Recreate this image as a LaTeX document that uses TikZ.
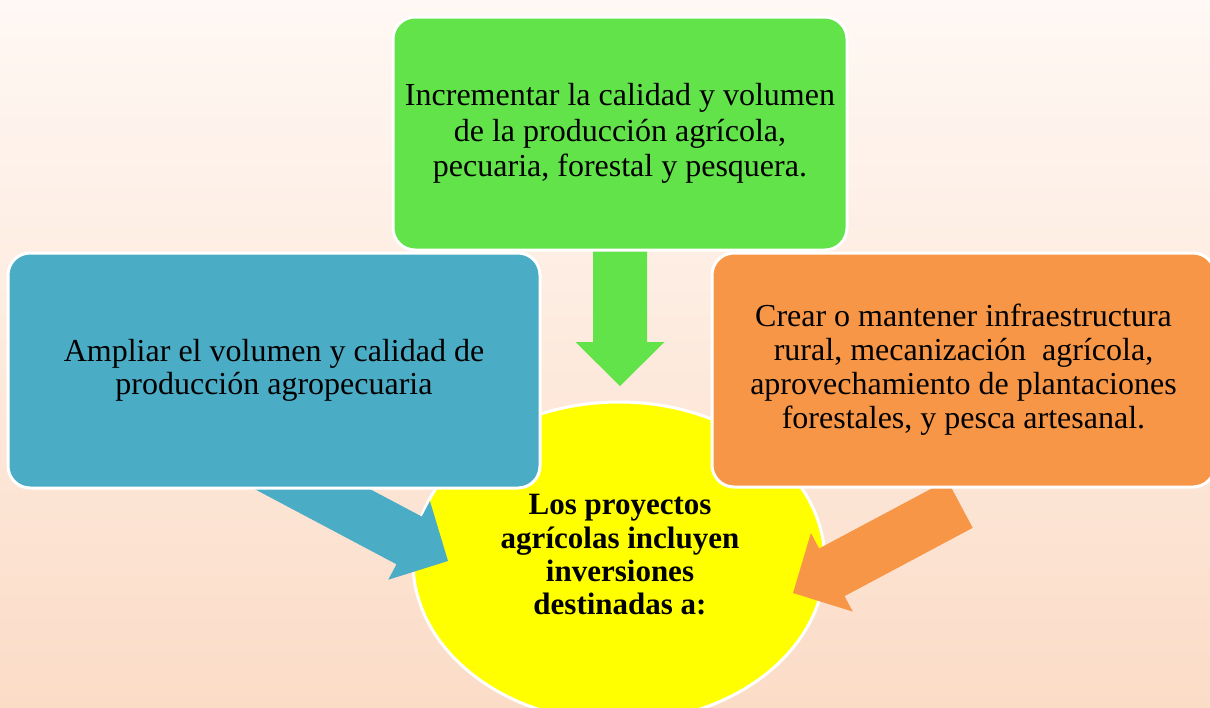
\documentclass[tikz,border=0pt]{standalone}
\usepackage{fontspec}
\setmainfont{Liberation Serif}
\usetikzlibrary{calc,shapes.geometric}
\definecolor{bgtop}{HTML}{FFF8F4}
\definecolor{bgbot}{HTML}{FBDCC7}
\definecolor{grn}{HTML}{62E34A}
\definecolor{blu}{HTML}{4BACC6}
\definecolor{org}{HTML}{F79646}
\definecolor{ylw}{HTML}{FFFF00}
% block arrow from tail coordinate #1 to tip coordinate #2, colour #3, head-base name #4
\newcommand\blockarrow[4]{%
  \coordinate (#4) at ($(#2)!44pt!(#1)$);
  \fill[#3] ($(#1)!27pt!90:(#2)$) -- ($(#4)!27pt!90:(#2)$) -- ($(#4)!44.5pt!90:(#2)$)
     -- (#2) -- ($(#4)!44.5pt!-90:(#2)$) -- ($(#4)!27pt!-90:(#2)$) -- ($(#1)!27pt!-90:(#2)$) -- cycle;}
\begin{document}
\begin{tikzpicture}[x=1pt,y=-1pt,
  box/.style={draw=white,line width=3pt,rounded corners=22pt,align=center,inner sep=0pt,text=black},
  bodytext/.style={font=\fontsize{32}{#1}\selectfont}]
\useasboundingbox (0,0) rectangle (1210,707);
\fill[top color=bgtop,bottom color=bgbot] (0,0) rectangle (1210,707);

\node[ellipse,fill=ylw,draw=white,line width=3pt,minimum width=412pt,minimum height=320pt,inner sep=0pt] (hub) at (619,562) {};

\coordinate (gT) at (620,240);
\coordinate (gP) at (620,386);
\blockarrow{gT}{gP}{grn}{gB}
\coordinate (bT) at (264,463.5);
\coordinate (bP) at (448,561);
\blockarrow{bT}{bP}{blu}{bB}
\coordinate (oT) at (960,504);
\coordinate (oP) at (793,593);
\blockarrow{oT}{oP}{org}{oB}

\node[box,fill=grn,minimum width=454pt,minimum height=233pt,bodytext=35.5] (green) at (620,133.5)
  {Incrementar la calidad y volumen\\ de la producción agrícola,\\ pecuaria, forestal y pesquera.};
\node[box,fill=blu,minimum width=532pt,minimum height=235pt,bodytext=33] (blue) at (274,370.5)
  {Ampliar el volumen y calidad de\\ producción agropecuaria};
\node[box,fill=org,minimum width=503pt,minimum height=234pt,bodytext=34] (orange) at (963.5,370)
  {Crear o mantener infraestructura\\ rural, mecanización\ \ agrícola,\\ aprovechamiento de plantaciones\\ forestales, y pesca artesanal.};

\node[align=center,inner sep=0pt,font=\fontsize{31}{33.3}\selectfont\bfseries] (hubtext) at (620,555)
  {Los proyectos\\ agrícolas incluyen\\ inversiones\\ destinadas a:};
\end{tikzpicture}
\end{document}
